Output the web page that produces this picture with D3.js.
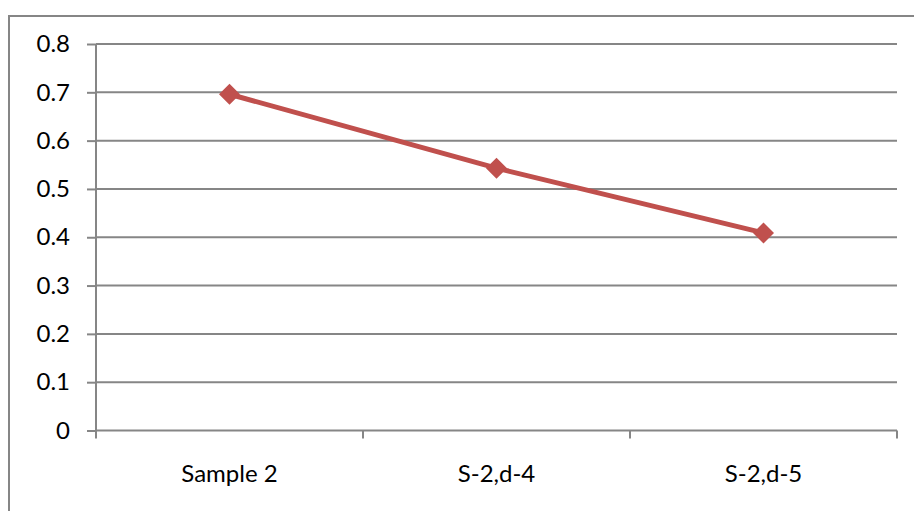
<!DOCTYPE html>
<html><head><meta charset="utf-8">
<script src="https://cdn.jsdelivr.net/npm/d3@7"></script>
<style>body{margin:0;background:#fff}svg{display:block}</style>
</head><body>
<svg id="c" width="914" height="511"></svg>
<script>
const categories = ["Sample 2", "S-2,d-4", "S-2,d-5"];
const values = [0.696, 0.543, 0.409];
const yTicks = [0, 0.1, 0.2, 0.3, 0.4, 0.5, 0.6, 0.7, 0.8];

(function(){
const svg = d3.select("#c");
const font = "Lato, 'Open Sans', sans-serif";
const gray = "#868686";

// outer chart border (extends beyond frame on right/bottom)
svg.append("path").attr("d", "M9,520 V16 H930").attr("fill","none").attr("stroke", gray).attr("stroke-width", 2);

const pLeft = 96, pRight = 897, pTop = 44, pBottom = 430.5;
const x = d3.scaleBand().domain(categories).range([pLeft, pRight]);
const y = d3.scaleLinear().domain([0, 0.8]).range([pBottom, pTop]);

// gridlines
svg.append("g").selectAll("line").data(yTicks.filter(d => d > 0)).join("line")
  .attr("x1", pLeft).attr("x2", pRight).attr("y1", d => y(d)).attr("y2", d => y(d))
  .attr("stroke", gray).attr("stroke-width", 2);

// y axis
const ya = svg.append("g").attr("transform", `translate(${pLeft},0)`)
  .call(d3.axisLeft(y).tickValues(yTicks).tickSize(9).tickPadding(17).tickFormat(d => d === 0 ? "0" : d3.format(".1f")(d)));
ya.select(".domain").attr("stroke", gray).attr("stroke-width", 2).attr("d", `M0,${pTop}V${pBottom+1}`);
ya.selectAll(".tick line").attr("stroke", gray).attr("stroke-width", 2);
ya.selectAll("text").attr("font-family", font).attr("font-size", 24).attr("fill", "#000");

// x axis
const xa = svg.append("g").attr("transform", `translate(0,${pBottom})`)
  .call(d3.axisBottom(x).tickSize(0).tickPadding(34));
xa.select(".domain").attr("stroke", gray).attr("stroke-width", 2).attr("d", `M${pLeft},0H${pRight}`);
xa.selectAll("text").attr("font-family", font).attr("font-size", 24).attr("fill", "#000");
// category boundary ticks
const bounds = categories.map(c => x(c)).concat([pRight]);
svg.append("g").selectAll("line").data(bounds).join("line")
  .attr("x1", d => d).attr("x2", d => d).attr("y1", pBottom).attr("y2", pBottom + 8)
  .attr("stroke", gray).attr("stroke-width", 2);

const cx = (c) => x(c) + x.bandwidth() / 2;
const pts = categories.map((c, i) => [cx(c), y(values[i])]);

svg.append("path").attr("d", d3.line()(pts)).attr("fill", "none")
  .attr("stroke", "#C0504D").attr("stroke-width", 5).attr("stroke-linejoin", "round");

svg.append("g").selectAll("path").data(pts).join("path")
  .attr("d", d => `M${d[0]},${d[1]-10.5}L${d[0]+10.5},${d[1]}L${d[0]},${d[1]+10.5}L${d[0]-10.5},${d[1]}Z`)
  .attr("fill", "#C0504D");
})();
</script>
</body></html>
